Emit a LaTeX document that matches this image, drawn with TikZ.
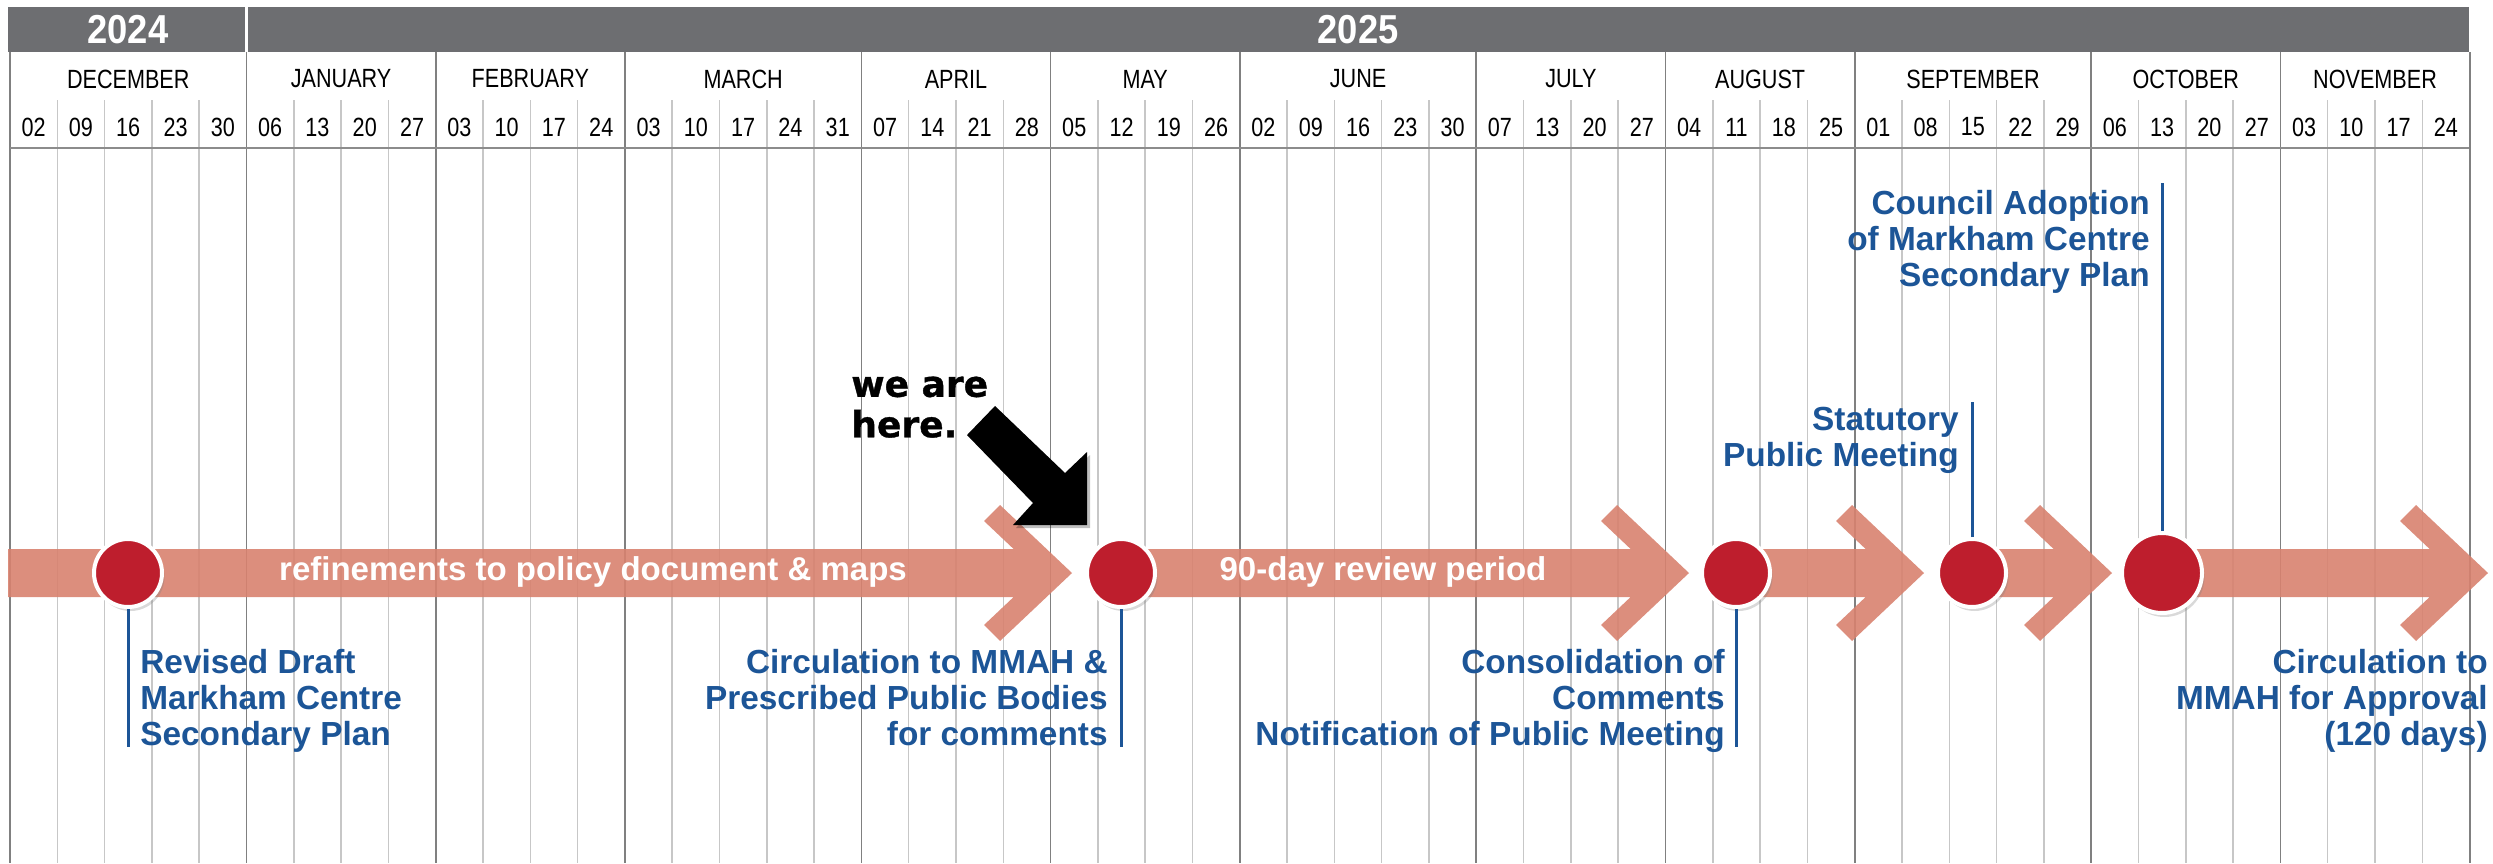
\documentclass[tikz,border=0pt]{standalone}
\usepackage{fontspec}
\setmainfont{Liberation Sans}
\newfontfamily\narrowfont{Liberation Sans}[FakeStretch=0.82]
\newfontfamily\yearfont{Liberation Sans}[FakeStretch=0.9]
\newfontfamily\heavyfont{DejaVu Sans}[FakeBold=1]
\usetikzlibrary{shadows}
\definecolor{hdrgray}{HTML}{6D6E71}
\definecolor{planblue}{HTML}{1C5597}
\definecolor{dotred}{HTML}{BE1E2D}
\definecolor{barsalmon}{HTML}{D8826F}
\def\colw{47.3}
\newcommand{\chevron}[1]{({#1-88},521) -- ({#1-33},573) -- ({#1-88},625) -- ({#1-72},641) -- (#1,573) -- ({#1-72},505) -- cycle}
\tikzset{
  weekline/.style={draw=black!22, line width=0.03cm},
  monthline/.style={draw=black!50, line width=0.035cm},
  yearlbl/.style={text=white, font=\yearfont\fontsize{23}{26}\selectfont\bfseries},
  monlbl/.style={font=\narrowfont\fontsize{15}{17}\selectfont, inner sep=0pt},
  daylbl/.style={font=\narrowfont\fontsize{15}{17}\selectfont, inner sep=0pt},
  milestone/.style={circle, fill=dotred, draw=white, line width=0.08cm, minimum size=1.36cm,
    drop shadow={shadow xshift=0.05cm, shadow yshift=-0.08cm, opacity=0.3}},
  leader/.style={draw=planblue, line width=0.06cm},
  barlbl/.style={text=white, anchor=base, inner sep=0pt, font=\fontsize{18.8}{20}\selectfont\bfseries},
  steplbl/.style={text=planblue, inner sep=0pt, font=\fontsize{19}{20.5}\selectfont\bfseries},
  herelbl/.style={anchor=north west, align=left, inner sep=0pt, font=\heavyfont\fontsize{20.5}{21.5}\selectfont\bfseries}
}
\begin{document}
\begin{tikzpicture}[x=0.02cm,y=-0.02cm]
\useasboundingbox (0,0) rectangle (2493,863);
% header band with the two years
\fill[hdrgray] (8,7) rectangle (2469,52);
\draw[white, line width=0.05cm] (246.5,7) -- (246.5,52);
\node[yearlbl] (y2024) at (128,30) {2024};
\node[yearlbl] (y2025) at (1358,30) {2025};

% week and month grid
\foreach \i in {1,...,51}
  \draw[weekline] ({10+\i*\colw},100) -- ({10+\i*\colw},863);
\foreach \i in {0,5,9,13,18,22,26,31,35,39,44,48,52}
  \draw[monthline] ({10+\i*\colw},52) -- ({10+\i*\colw},863);
\draw[black!45, line width=0.05cm] (10,148) -- (2469,148);

\foreach \m/\a/\b in {DECEMBER/0/5,JANUARY/5/9,FEBRUARY/9/13,MARCH/13/18,APRIL/18/22,MAY/22/26,
    JUNE/26/31,JULY/31/35,AUGUST/35/39,SEPTEMBER/39/44,OCTOBER/44/48,NOVEMBER/48/52}
  \node[monlbl] (\m) at ({10+(\a+\b)/2*\colw},79) {\m};
\foreach \d [count=\i from 0] in {02,09,16,23,30,06,13,20,27,03,10,17,24,03,10,17,24,31,
    07,14,21,28,05,12,19,26,02,09,16,23,30,07,13,20,27,04,11,18,25,01,08,15,22,29,
    06,13,20,27,03,10,17,24}
  \node[daylbl] (wk\i) at ({10+(\i+0.5)*\colw},127) {\d};

% process bar
\fill[barsalmon, fill opacity=0.9]
  (8,549) rectangle (1040,597) \chevron{1072}
  (1121,549) rectangle (1657,597) \chevron{1689}
  (1736,549) rectangle (1892,597) \chevron{1924}
  (1972,549) rectangle (2080,597) \chevron{2112}
  (2162,549) rectangle (2456,597) \chevron{2488};
\node[barlbl] (refine) at (593,580) {refinements to policy document \& maps};
\node[barlbl] (review) at (1383,580) {90-day review period};

% milestones
\node[milestone] (m1) at (128,573) {};
\node[milestone] (m2) at (1121,573) {};
\node[milestone] (m3) at (1736,573) {};
\node[milestone] (m4) at (1972,573) {};
\node[milestone, minimum size=1.6cm] (m5) at (2162,573) {};

\coordinate (e1) at (128,747);
\coordinate (e2) at (1121,747);
\coordinate (e3) at (1736,747);
\coordinate (e4) at (1972,402);
\coordinate (e5) at (2162,183);
\draw[leader] (m1.south) -- (e1);
\draw[leader] (m2.south) -- (e2);
\draw[leader] (m3.south) -- (e3);
\draw[leader] (m4.north) -- (e4);
\draw[leader] (m5.north) -- (e5);

\node[steplbl, anchor=north west, align=left] (s1) at (140,649) {Revised Draft\\Markham Centre\\Secondary Plan};
\node[steplbl, anchor=north east, align=right] (s2) at (1108,649) {Circulation to MMAH \&\\Prescribed Public Bodies\\for comments};
\node[steplbl, anchor=north east, align=right] (s3) at (1725,649) {Consolidation of\\Comments\\Notification of Public Meeting};
\node[steplbl, anchor=north east, align=right] (s4) at (1959,407) {Statutory\\Public Meeting};
\node[steplbl, anchor=north east, align=right] (s5) at (2150,190) {Council Adoption\\of Markham Centre\\Secondary Plan};
\node[steplbl, anchor=north east, align=right] (s6) at (2488,649) {Circulation to\\MMAH for Approval\\(120 days)};

% pointer
\node[herelbl] (here) at (851,370) {\strut we are\\here.};
\fill[black, opacity=0.25] (970,438) -- (998,409) -- (1068,476) -- (1090,455) -- (1090,528) -- (1016,528) -- (1036,506) -- cycle;
\fill[black] (967,435) -- (995,406) -- (1065,473) -- (1087,452) -- (1087,525) -- (1013,525) -- (1033,503) -- cycle;
\end{tikzpicture}
\end{document}
